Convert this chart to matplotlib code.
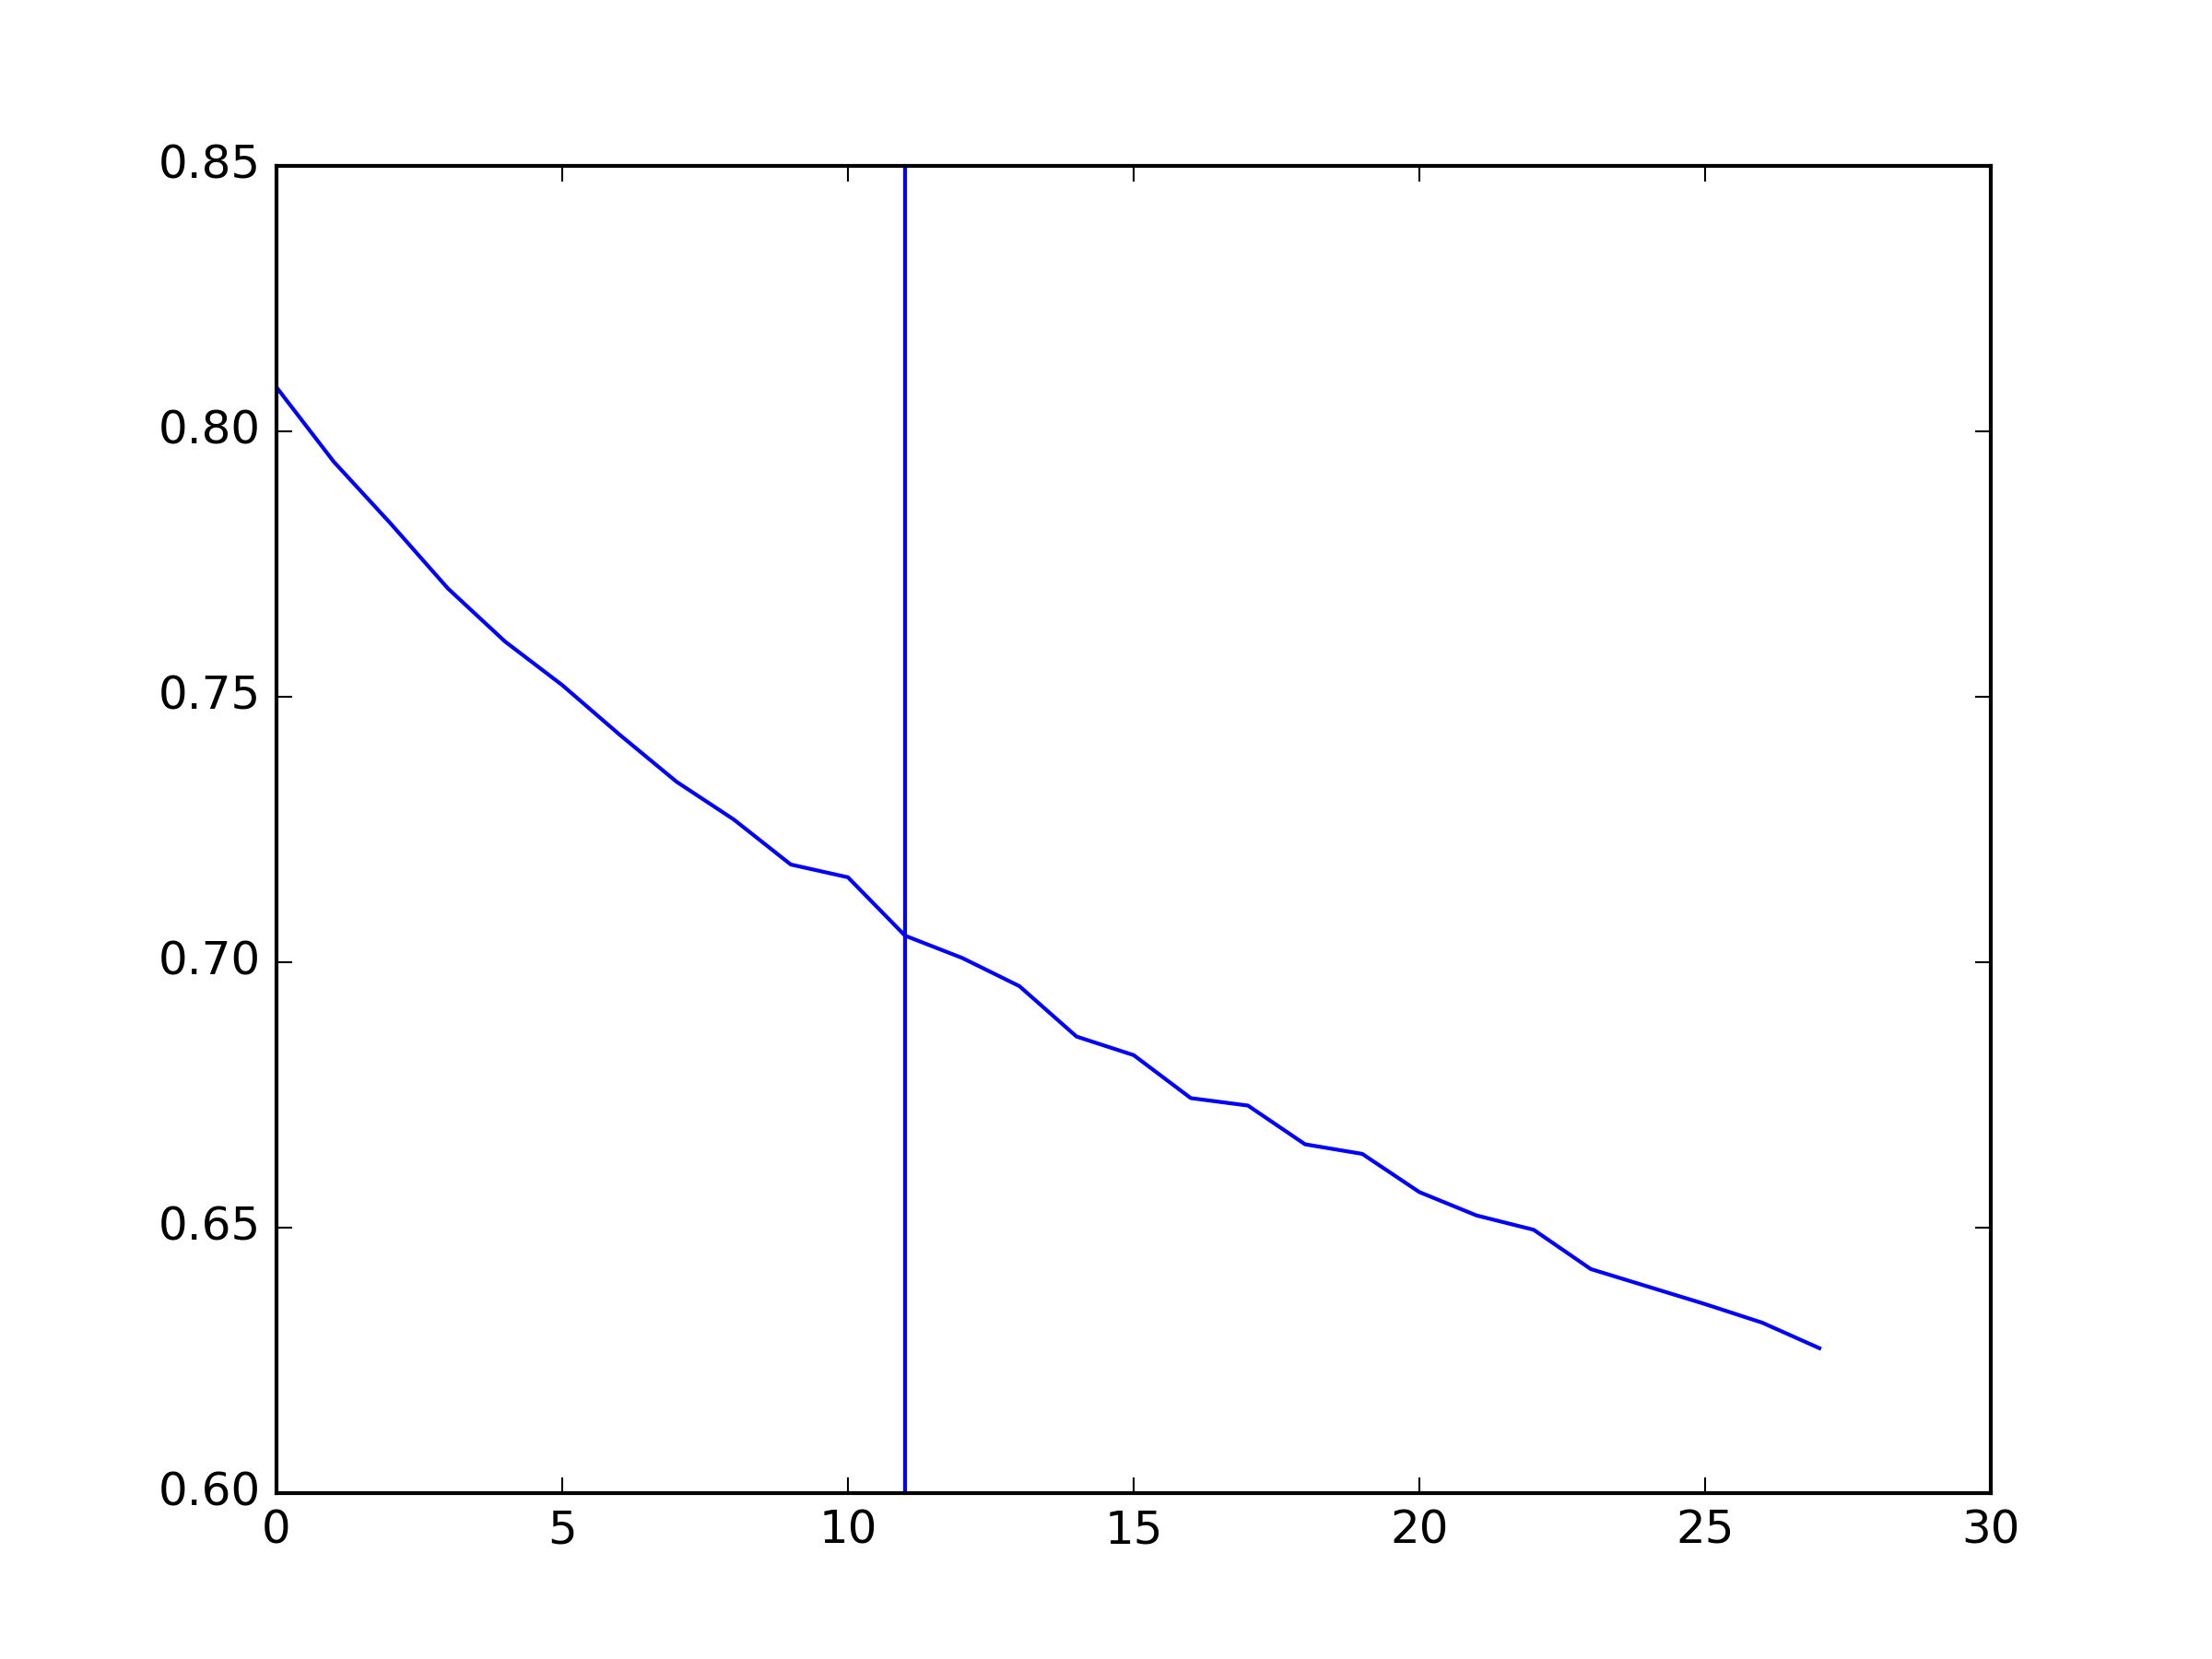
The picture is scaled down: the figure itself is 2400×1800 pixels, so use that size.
import matplotlib
matplotlib.use('Agg')
import matplotlib.pyplot as plt
import numpy as np

plt.style.use('classic')

# values
steps = np.arange(28)
scores = [0.8083, 0.7943, 0.7826, 0.7704, 0.7604, 0.7522, 0.7429, 0.7340,
          0.7269, 0.7184, 0.7160, 0.7050, 0.7008, 0.6955, 0.6860, 0.6825,
          0.6744, 0.6730, 0.6657, 0.6639, 0.6567, 0.6523, 0.6496, 0.6422,
          0.6389, 0.6356, 0.6321, 0.6273]
cut = 11

fig = plt.figure(figsize=(8, 6))
ax = fig.add_subplot(111)
ax.plot(steps, scores, 'b-')
ax.axvline(cut, color='b')

ax.set_xlim(0, 30)
ax.set_ylim(0.60, 0.85)

fig.savefig('out.png', dpi=300)
